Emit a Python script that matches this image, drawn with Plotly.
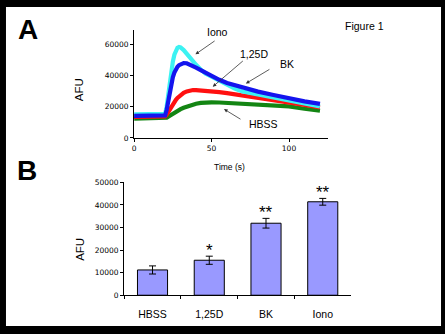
import plotly.graph_objects as go

# ---------------- data ----------------
time_s = [0, 10, 19, 20, 21, 22, 23, 24, 25, 26, 27, 28, 29, 30, 32, 34, 36, 38, 40,
          43, 46, 50, 55, 60, 65, 70, 80, 90, 100, 110, 120]
iono = [15200, 15200, 15200, 15500, 20000, 28000, 36000, 43000, 49000, 53500, 56500, 58000,
        58500, 58200, 56500, 54000, 51500, 49000, 47000, 44000, 41500, 39500, 36800, 34000,
        31800, 29900, 28000, 26200, 24100, 22100, 20200]
bk = [14200, 14200, 14200, 14500, 18000, 24000, 30000, 35000, 39000, 42000, 44200, 45800,
      46800, 47500, 48100, 48000, 47300, 46300, 45200, 43600, 41900, 39800, 37400, 35300,
      33800, 32400, 29800, 27600, 25400, 23500, 21900]
d125 = [13600, 13600, 13600, 13800, 15000, 16800, 18600, 20300, 21800, 23200, 24500, 25700,
        26700, 27600, 29000, 29900, 30500, 30800, 30800, 30600, 30300, 29900, 29500, 28800,
        28100, 27300, 26000, 24600, 22900, 21200, 19600]
hbss = [12400, 12400, 12400, 12500, 13000, 13700, 14400, 15100, 15800, 16400, 17000, 17500,
        18000, 18500, 19400, 20200, 20900, 21500, 22000, 22500, 22800, 22900, 22800, 22500,
        22200, 21900, 21600, 21300, 20300, 18800, 17500]

bar_cats = ["HBSS", "1,25D", "BK", "Iono"]
bar_vals = [11200, 15500, 31900, 41400]
bar_errs = [1800, 1800, 2150, 1500]
bar_stars = ["", "*", "**", "**"]

top_yticks = [0, 20000, 40000, 60000]
top_xticks = [0, 50, 100]
bot_yticks = [0, 10000, 20000, 30000, 40000, 50000]

W, H = 445, 334
def px(x):
    return x / W
def py(y):
    return 1 - y / H

fig = go.Figure()

line_w = 4.2
fig.add_trace(go.Scatter(x=time_s, y=hbss, mode="lines", line=dict(color="#138513", width=line_w),
                         xaxis="x", yaxis="y", showlegend=False))
fig.add_trace(go.Scatter(x=time_s, y=d125, mode="lines", line=dict(color="#FF1010", width=line_w),
                         xaxis="x", yaxis="y", showlegend=False))
fig.add_trace(go.Scatter(x=time_s, y=iono, mode="lines", line=dict(color="#3CF2F2", width=line_w),
                         xaxis="x", yaxis="y", showlegend=False))
fig.add_trace(go.Scatter(x=time_s, y=bk, mode="lines", line=dict(color="#1414EE", width=line_w),
                         xaxis="x", yaxis="y", showlegend=False))

fig.add_trace(go.Bar(x=bar_cats, y=bar_vals, xaxis="x2", yaxis="y2", showlegend=False,
                     marker=dict(color="#9999FF", line=dict(color="black", width=1)),
                     error_y=dict(type="data", array=bar_errs, color="black", thickness=1, width=3.5)))

tickfont = dict(family="DejaVu Sans", size=7.5, color="black")
axis_common = dict(showline=True, linecolor="black", linewidth=1, showgrid=False, zeroline=False,
                   ticks="outside", ticklen=3, tickcolor="black", tickwidth=1, tickfont=tickfont,
                   tickformat="d")

fig.update_layout(
    width=W, height=H,
    margin=dict(l=0, r=0, t=0, b=0),
    paper_bgcolor="black",
    plot_bgcolor="rgba(0,0,0,0)",
    bargap=0.47,
    xaxis=dict(domain=[px(132.7), px(327.2)], range=[0, 125], tickvals=top_xticks,
               anchor="y", **axis_common),
    yaxis=dict(domain=[py(137.7), py(27)], range=[0, 69200], tickvals=top_yticks,
               anchor="x", **axis_common),
    xaxis2=dict(domain=[px(122.7), px(350.7)], type="category", tickson="boundaries",
                anchor="y2", ticklabelstandoff=9,
                **{**axis_common, "tickfont": dict(family="Liberation Sans, Arial", size=10.5, color="black")}),
    yaxis2=dict(domain=[py(299.3), py(183.3)], range=[0, 50000], tickvals=bot_yticks,
                anchor="x2", **axis_common),
    shapes=[dict(type="rect", xref="paper", yref="paper", x0=px(4), x1=px(441), y0=py(331), y1=py(3),
                 fillcolor="white", line=dict(width=0), layer="below")],
)

lab = dict(family="Liberation Sans, Arial", color="black")
texts = [
    ("A", 26, 26, 28, True),
    ("B", 25.5, 171, 28, True),
    ("Figure 1", 364.5, 23, 10.5, False),
    ("Iono", 216, 29, 10.5, False),
    ("1,25D", 253, 51, 10.5, False),
    ("BK", 286, 62, 10.5, False),
    ("HBSS", 263, 123, 10.5, False),
    ("Time (s)", 229, 167, 8.5, False),
]
for t, x, y, s, b in texts:
    fig.add_annotation(text=f"<b>{t}</b>" if b else t, x=px(x), y=py(y), xref="paper", yref="paper",
                       xanchor="center", yanchor="middle", showarrow=False, font=dict(size=s, **lab))

for x, y in [(77.5, 88.5), (78.5, 252.5)]:
    fig.add_annotation(text="AFU", x=px(x), y=py(y), xref="paper", yref="paper", textangle=-90,
                       xanchor="center", yanchor="middle", showarrow=False, font=dict(size=11.5, **lab))

arrows = [((194.3, 51.7), (215, 37.3)), ((211.7, 85), (243.3, 58)),
          ((245, 81.7), (270, 66.7)), ((223, 108), (241, 119))]
for (hx, hy), (tx, ty) in arrows:
    fig.add_annotation(text="", x=px(hx), y=py(hy), xref="paper", yref="paper", ax=tx - hx, ay=ty - hy,
                       showarrow=True, arrowhead=2, arrowsize=0.9, arrowwidth=0.8, arrowcolor="#333333",
                       standoff=0, startstandoff=0)

for c, v, e, s in zip(bar_cats, bar_vals, bar_errs, bar_stars):
    if s:
        fig.add_annotation(text=s, x=c, y=v + e, xref="x2", yref="y2", yanchor="bottom",
                           showarrow=False, font=dict(size=17, **lab), yshift=-6)

fig.write_html("out.html", config={"displayModeBar": False},
               post_script="document.body.style.margin='0';document.body.style.overflow='hidden';")
